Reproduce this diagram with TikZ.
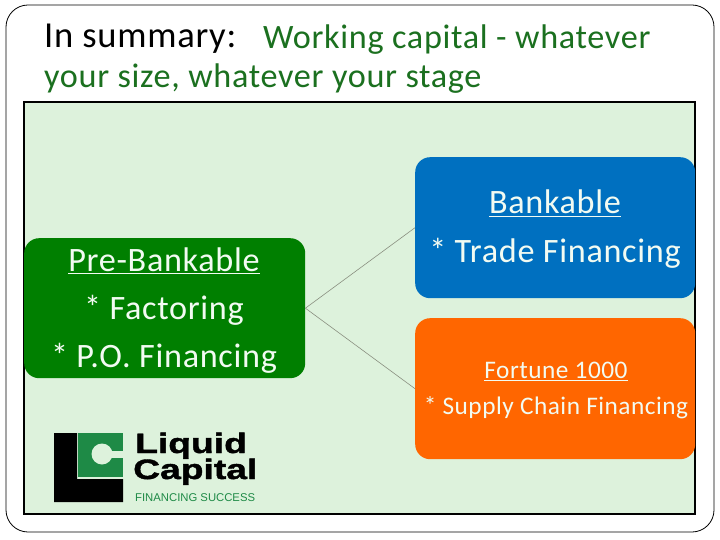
\documentclass[tikz,border=0pt]{standalone}
\usepackage{fontspec}
\setmainfont[LetterSpace=2]{Carlito}
\newfontfamily\titlefont[LetterSpace=2]{Carlito}
\newfontfamily\logofont[BoldFeatures={FakeStretch=1.33,FakeBold=1.5}]{Liberation Sans}
\newfontfamily\logosmall{Liberation Sans}
\newcommand\ulbar[1]{\vtop{\hbox{#1}\kern 1.6pt\hrule height 1.4pt}}
\definecolor{panelgreen}{HTML}{DDF2DC}
\definecolor{boxgreen}{HTML}{007F00}
\definecolor{boxblue}{HTML}{0070C0}
\definecolor{boxorange}{HTML}{FF6600}
\definecolor{titlegreen}{HTML}{1B701F}
\definecolor{logogreen}{HTML}{1E8A46}
\definecolor{linegray}{HTML}{8A8F80}
\definecolor{softwhite}{HTML}{F2FBF2}
\tikzset{
  card/.style={draw=none,rounded corners=15pt,minimum width=281pt,inner sep=0pt,align=center,anchor=north west},
  titletext/.style={anchor=base west,inner sep=0pt,font=\titlefont\fontsize{34.2}{34}\selectfont,text=titlegreen},
  link/.style={draw=linegray,line width=0.6pt},
  bigtext/.style={anchor=base,inner sep=0pt,text=softwhite,font=\fontsize{34.2}{36}\selectfont},
  smalltext/.style={anchor=base,inner sep=0pt,text=softwhite,font=\fontsize{25.3}{28}\selectfont},
  logotext/.style={anchor=base west,inner sep=0pt,font=\logofont\bfseries\fontsize{28}{28}\selectfont,text=black}
}
\begin{document}
\begin{tikzpicture}[x=1pt,y=-1pt]
\useasboundingbox (0,0) rectangle (720,540);
\fill[white] (0,0) rectangle (720,540);
\draw[black,line width=0.8pt,rounded corners=22pt] (6,5) rectangle (714,532);
\node[titletext,text=black,font=\titlefont\fontsize{36.6}{37}\selectfont] (t1) at (44,48) {In summary:};
\node[titletext] (t2) at (263,49) {Working capital - whatever};
\node[titletext] (t3) at (44,88) {your size, whatever your stage};
\draw[black,line width=2pt,fill=panelgreen] (24,102) rectangle (695,514);
\node[card,fill=boxgreen,minimum height=140pt] (pre) at (24,238) {};
\node[card,fill=boxblue,minimum width=280pt,minimum height=141pt] (bank) at (415,157) {};
\node[card,fill=boxorange,minimum width=280pt,minimum height=141pt] (fort) at (415,318) {};
\draw[link] (pre.east) -- (bank.west);
\draw[link] (pre.east) -- (fort.west);
\node[bigtext] (p1) at (164,271) {\ulbar{Pre-Bankable}};
\node[bigtext] (p2) at (164,319) {* Factoring};
\node[bigtext] (p3) at (164,367) {* P.O. Financing};
\node[bigtext] (b1) at (555,214) {\ulbar{Bankable}};
\node[bigtext] (b2) at (555,262) {* Trade Financing};
\node[smalltext] (f1) at (556,378) {\ulbar{Fortune 1000}};
\node[smalltext] (f2) at (556,414) {* Supply Chain Financing};
% logo
\fill[black] (54,433) -- (77,433) -- (77,479) -- (123,479) -- (123,502) -- (54,502) -- cycle;
\fill[logogreen] (78,433) rectangle (123,477);
\fill[panelgreen] (102,454) circle (10.5);
\fill[panelgreen] (102,450.5) rectangle (123,458);
\node[logotext] (l1) at (135,453) {Liquid};
\node[logotext] (l2) at (133,479) {Capital};
\node[anchor=base west,inner sep=0pt,font=\logosmall\fontsize{11.3}{12}\selectfont,text=logogreen] (l3) at (135,501) {FINANCING SUCCESS};
\end{tikzpicture}
\end{document}
